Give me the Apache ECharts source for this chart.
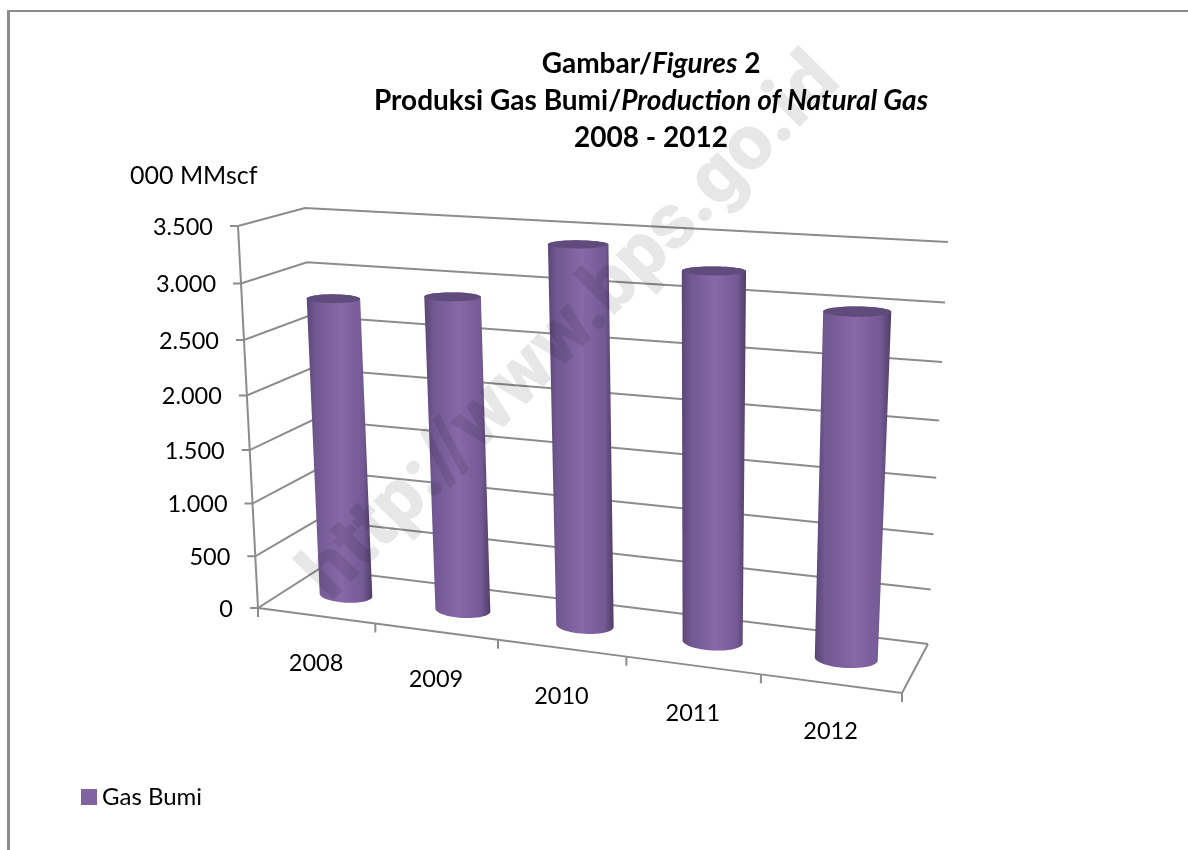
<!DOCTYPE html>
<html><head><meta charset="utf-8">
<style>html,body{margin:0;padding:0;background:#fff}#c{width:1188px;height:850px}</style>
<script src="https://cdn.jsdelivr.net/npm/echarts@6/dist/echarts.min.js"></script>
</head><body><div id="c"></div>
<script>
const categories = ['2008','2009','2010','2011','2012'];
const gasBumi = [2800, 2890, 3410, 3255, 2995];
const yTicks = [0,500,1000,1500,2000,2500,3000,3500];
const yTickLabels = ['0','500','1.000','1.500','2.000','2.500','3.000','3.500'];
const seriesName = 'Gas Bumi';
const unitLabel = '000 MMscf';
const watermark = 'http://www.bps.go.id';

const FONT = 'Lato, "Open Sans", sans-serif';
const GRAY = '#8c8c8c';
const G = {left:258, top:226, width:644, height:382};
// perspective box corners: front-left, front-right, back-right, back-left
const floorQuad = [[258,608],[902,693],[928,644],[319,569]];
const topQuad   = [[238,226],[922,266],[948,242],[305,208]];
const VERT = 0.94;

function squareToQuad(q){
  const [x0,y0]=q[0],[x1,y1]=q[1],[x2,y2]=q[2],[x3,y3]=q[3];
  const dx1=x1-x2,dx2=x3-x2,dx3=x0-x1+x2-x3,dy1=y1-y2,dy2=y3-y2,dy3=y0-y1+y2-y3;
  const den=dx1*dy2-dx2*dy1;
  const g=(dx3*dy2-dx2*dy3)/den,h=(dx1*dy3-dx3*dy1)/den;
  const a=x1-x0+g*x1,b=x3-x0+h*x3,d=y1-y0+g*y1,e=y3-y0+h*y3;
  return (u,v)=>{const k=g*u+h*v+1;return [(a*u+b*v+x0)/k,(d*u+e*v+y0)/k];};
}
const Hf=squareToQuad(floorQuad),Ht=squareToQuad(topQuad);
function project(u,d,w){
  const p=Hf(u,d),q=Ht(u,d),s=w*VERT/(1+w*(VERT-1));
  return [p[0]+(q[0]-p[0])*s,p[1]+(q[1]-p[1])*s];
}
function toUnit(pt){return [(pt[0]-G.left)/G.width,(G.top+G.height-pt[1])/G.height];}
function hull(pts){
  const P=pts.slice().sort((a,b)=>a[0]-b[0]||a[1]-b[1]);
  const cr=(o,a,b)=>(a[0]-o[0])*(b[1]-o[1])-(a[1]-o[1])*(b[0]-o[0]);
  const lo=[],up=[];
  for(const p of P){while(lo.length>1&&cr(lo[lo.length-2],lo[lo.length-1],p)<=0)lo.pop();lo.push(p);}
  for(const p of P.slice().reverse()){while(up.length>1&&cr(up[up.length-2],up[up.length-1],p)<=0)up.pop();up.push(p);}
  return lo.slice(0,-1).concat(up.slice(0,-1));
}
const lineStyle={stroke:GRAY,lineWidth:2,fill:null};
const pl=(points)=>({type:'polyline',shape:{points},style:lineStyle,silent:true});

const chart=echarts.init(document.getElementById('c'),null,{renderer:'canvas'});

function wallItem(params,api){
  const v=api.value(0),w=toUnit(api.coord([0,v]))[1];
  const f=project(0,0,w),b=project(0,1,w),r=project(1,1,w);
  return {type:'group',children:[
    pl([[f[0]-8,f[1]],f,b,r]),
    {type:'text',silent:true,x:f[0]-25,y:f[1]+1,style:{text:yTickLabels[params.dataIndex],fontFamily:FONT,fontSize:23.5,fill:'#000',align:'right',verticalAlign:'middle'}}
  ]};
}
function frameItem(params,api){
  const i=params.dataIndex,n=categories.length,c=toUnit(api.coord([i,0]))[0];
  const a=project(i/n,0,0),e=project((i+1)/n,0,0),m=project(c,0,0),k=[];
  k.push(pl([a,e]));
  k.push(pl([e,[e[0],e[1]+9]]));
  if(i===0){k.push(pl([a,[a[0],a[1]+9]]));k.push(pl([a,project(0,0,1)]));}
  if(i===n-1)k.push(pl([e,project(1,1,0)]));
  k.push({type:'text',silent:true,x:m[0],y:m[1]+48,style:{text:categories[i],fontFamily:FONT,fontSize:23.5,fill:'#000',align:'center',verticalAlign:'middle'}});
  return {type:'group',children:k};
}
function disc(u,w,tilt){
  const c=project(u,0.5,w),ru=0.046,rd=0.19;
  const l=project(u-ru,0.5,w),r=project(u+ru,0.5,w);
  const ex=(r[0]-l[0])/2,ey=(r[1]-l[1])/2*tilt;
  const ry=(project(u,0.5+rd,w)[1]-project(u,0.5-rd,w)[1])/2;
  const pts=[];
  for(let i=0;i<48;i++){
    const t=i/48*Math.PI*2,ct=Math.cos(t),st=Math.sin(t);
    pts.push([c[0]+ex*ct,c[1]+ey*ct+ry*st]);
  }
  return pts;
}
function cylItem(params,api){
  const pt=toUnit(api.coord([api.value(0),api.value(1)])),u=pt[0],w=pt[1];
  const bot=disc(u,0,0.4),top=disc(u,w,0.1);
  const grad=new echarts.graphic.LinearGradient(0,0,1,0,[
    {offset:0,color:'#5a4676'},{offset:0.14,color:'#715892'},{offset:0.52,color:'#8768a8'},
    {offset:0.86,color:'#745a95'},{offset:1,color:'#4f3d68'}]);
  return {type:'group',children:[
    {type:'polygon',silent:true,shape:{points:hull(bot.concat(top))},style:{fill:grad}},
    {type:'polygon',silent:true,shape:{points:top},style:{fill:'#604b7d'}}
  ]};
}

chart.setOption({
  animation:false,
  backgroundColor:'#fff',
  title:{
    left:646,top:40,textAlign:'center',
    text:'{b|Gambar/}{i|Figures}{b| 2}\n{b|Produksi Gas Bumi/}{i|Production of Natural Gas}\n{b|2008 - 2012}',
    textStyle:{rich:{
      b:{fontFamily:FONT,fontWeight:'bold',fontSize:28,lineHeight:37,color:'#000'},
      i:{fontFamily:FONT,fontWeight:'bold',fontStyle:'italic',fontSize:28,lineHeight:37,color:'#000'}
    }}
  },
  legend:{
    left:76,top:780,itemWidth:16,itemHeight:16,itemGap:2,data:[seriesName],icon:'rect',selectedMode:false,
    textStyle:{fontFamily:FONT,fontSize:24,color:'#000'}
  },
  grid:G,
  xAxis:{type:'category',data:categories,show:false},
  yAxis:{type:'value',min:0,max:3500,interval:500,show:false},
  graphic:[
    {type:'rect',silent:true,shape:{x:7,y:10,width:3,height:840},style:{fill:GRAY}},
    {type:'rect',silent:true,shape:{x:7,y:10,width:1181,height:2},style:{fill:GRAY}},
    {type:'text',silent:true,x:130,y:176,style:{text:unitLabel,fontFamily:FONT,fontSize:25,fill:'#000',verticalAlign:'middle'}},
    {type:'text',silent:true,z:50,x:573,y:329,rotation:45.4*Math.PI/180,
     style:{text:watermark,fontFamily:'Roboto, "Liberation Sans", sans-serif',fontWeight:900,fontSize:78,fill:'rgba(0,0,0,0.095)',align:'center',verticalAlign:'middle'}}
  ],
  series:[
    {type:'custom',name:'walls',silent:true,z:1,data:yTicks.map(v=>[v]),renderItem:wallItem,encode:{y:0},clip:false},
    {type:'custom',name:'frame',silent:true,z:1,data:categories.map((c,i)=>[i]),renderItem:frameItem,encode:{x:0},clip:false},
    {type:'custom',name:seriesName,silent:true,z:3,itemStyle:{color:'#8064a2'},data:gasBumi.map((v,i)=>[i,v]),renderItem:cylItem,encode:{x:0,y:1},clip:false}
  ]
});
</script></body></html>
